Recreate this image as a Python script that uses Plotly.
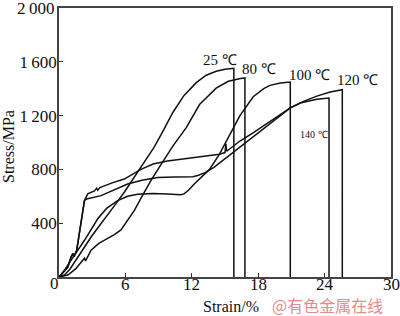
import plotly.graph_objects as go

# ---- data ----
strain_25 = [0, 0.5, 1.0, 1.7, 2.3, 2.9, 3.6, 4.4, 5.1, 5.9, 6.8, 7.8, 8.6, 9.3, 10.3, 11.3, 12.4, 13.3, 14.2,
             15.0, 15.8, 15.8]
stress_25 = [0, 15, 60, 150, 225, 297, 375, 460, 540, 630, 740, 860, 965, 1070, 1225, 1350, 1445, 1500, 1530,
             1545, 1552, 0]

strain_80 = [0, 0.8, 1.5, 2.2, 2.3, 2.4, 2.9, 3.6, 4.4, 5.0, 5.6, 6.2, 6.8, 7.5, 8.3, 9.4, 10.3, 11.5, 12.7,
             14.2, 15.3, 16.4, 16.8, 16.8]
stress_80 = [0, 15, 60, 125, 140, 120, 199, 250, 285, 315, 350, 420, 494, 600, 716, 860, 975, 1110, 1282,
             1404, 1455, 1476, 1480, 0]

strain_100 = [0, 0.2, 1.1, 2.3, 3.5, 4.3, 5.3, 6.2, 7.1, 8.5, 9.8, 11.0, 11.3, 11.7, 12.2, 12.8, 13.6, 14.5,
              15.45, 16.35, 17.55, 18.5, 19.06, 20.0, 20.9, 20.9]
stress_100 = [0, 15, 125, 273, 433, 510, 568, 600, 615, 620, 618, 612, 618, 645, 690, 740, 800, 913,
              1060, 1200, 1340, 1400, 1425, 1443, 1450, 0]

strain_120 = [0, 0.8, 1.1, 1.25, 1.35, 1.6, 2.3, 2.5, 3.8, 5.0, 6.2, 7.5, 8.9, 10.5, 12.1, 12.6, 13.2, 14.0,
              15.0, 16.0, 17.0, 18.0, 19.0, 20.0, 20.9, 22.1, 23.3, 24.5, 25.0, 25.6, 25.6]
stress_120 = [0, 74, 150, 175, 150, 199, 568, 580, 605, 650, 691, 720, 740, 744, 746, 756, 776, 815,
              880, 945, 1010, 1075, 1140, 1205, 1257, 1306, 1345, 1375, 1385, 1393, 0]

strain_140 = [0, 0.8, 1.1, 1.25, 1.35, 1.6, 2.3, 2.6, 3.2, 3.4, 3.5, 3.7, 4.8, 5.9, 7.4, 8.5, 9.8, 12.0, 14.5,
              15.0, 15.08, 15.15, 16.35, 17.5, 18.5, 19.7, 20.9, 21.8, 23.3, 24.4, 24.4]
stress_140 = [0, 74, 150, 175, 150, 199, 568, 618, 640, 660, 645, 665, 700, 728, 800, 840, 863, 885, 913,
              925, 990, 935, 1011, 1070, 1125, 1190, 1257, 1294, 1322, 1331, 0]

x_ticks = [6, 12, 18, 24, 30]
x_tick_text = ["6", "12", "18", "24", "30"]
y_ticks = [400, 800, 1200, 1600]
y_tick_text = ["400", "800", "1\u2009200", "1\u2009600"]

series = [
    ("25 ℃", strain_25, stress_25),
    ("80 ℃", strain_80, stress_80),
    ("100 ℃", strain_100, stress_100),
    ("120 ℃", strain_120, stress_120),
    ("140 ℃", strain_140, stress_140),
]

# ---- layout geometry (pixels) ----
W, H = 400, 316
L, R, T, B = 59, 391, 6, 277
SERIF = "Liberation Serif, Times New Roman, serif"


def px(x):
    return (x - L) / (R - L)


def py(y):
    return (B - y) / (B - T)


fig = go.Figure()
for name, xs, ys in series:
    fig.add_trace(go.Scatter(x=xs, y=ys, mode="lines", name=name,
                             line=dict(color="#111111", width=1.5), showlegend=False))

ann = []
labels = [("25 ℃", 220, 58, 15), ("80 ℃", 259, 67, 15), ("100 ℃", 309, 74, 15),
          ("120 ℃", 357, 79, 15), ("140 ℃", 314, 133, 10)]
for text, x, y, s in labels:
    ann.append(dict(text=text, x=px(x), y=py(y), xref="paper", yref="paper",
                    showarrow=False, xanchor="center", yanchor="middle",
                    font=dict(family=SERIF, size=s, color="#111")))
# x tick labels (placed on the x data scale, just under the axis)
for v, t in zip(x_ticks, x_tick_text):
    ann.append(dict(text=t, x=v, xref="x", y=py(285), yref="paper", showarrow=False,
                    xanchor="center", yanchor="middle",
                    font=dict(family=SERIF, size=17, color="#111")))
ann.append(dict(text="2\u2009000", x=px(56), y=py(7), xref="paper", yref="paper", showarrow=False,
                xanchor="right", yanchor="middle", font=dict(family=SERIF, size=17, color="#111")))
ann.append(dict(text="0", x=px(54), y=py(284), xref="paper", yref="paper", showarrow=False,
                xanchor="center", yanchor="middle", font=dict(family=SERIF, size=17, color="#111")))
ann.append(dict(text="Strain/%", x=px(231), y=py(307), xref="paper", yref="paper", showarrow=False,
                xanchor="center", yanchor="middle", font=dict(family=SERIF, size=16, color="#111")))
ann.append(dict(text="Stress/MPa", x=px(9), y=py(145), xref="paper", yref="paper", showarrow=False,
                textangle=-90, xanchor="center", yanchor="middle",
                font=dict(family=SERIF, size=16, color="#111")))
ann.append(dict(text="@有色金属在线", x=px(327), y=py(305.5), xref="paper", yref="paper", showarrow=False,
                xanchor="center", yanchor="middle",
                font=dict(family="Noto Sans CJK SC", size=16, color="#e58a8a")))

fig.update_layout(
    width=W, height=H,
    margin=dict(l=L, r=W - R, t=T, b=H - B, pad=0),
    paper_bgcolor="white", plot_bgcolor="white",
    annotations=ann,
    xaxis=dict(range=[0, 30], tickvals=x_ticks, ticks="inside", ticklen=4,
               tickcolor="#333", tickwidth=1, showgrid=False, zeroline=False,
               showline=True, linecolor="#444", linewidth=1.5, mirror=True,
               showticklabels=False),
    yaxis=dict(range=[0, 2000], tickvals=y_ticks, ticktext=y_tick_text, ticks="inside", ticklen=4,
               tickcolor="#333", tickwidth=1, showgrid=False, zeroline=False,
               showline=True, linecolor="#444", linewidth=1.5, mirror=True,
               ticklabelstandoff=-3,
               tickfont=dict(family=SERIF, size=17, color="#111")),
)

fig.write_html("out.html")
